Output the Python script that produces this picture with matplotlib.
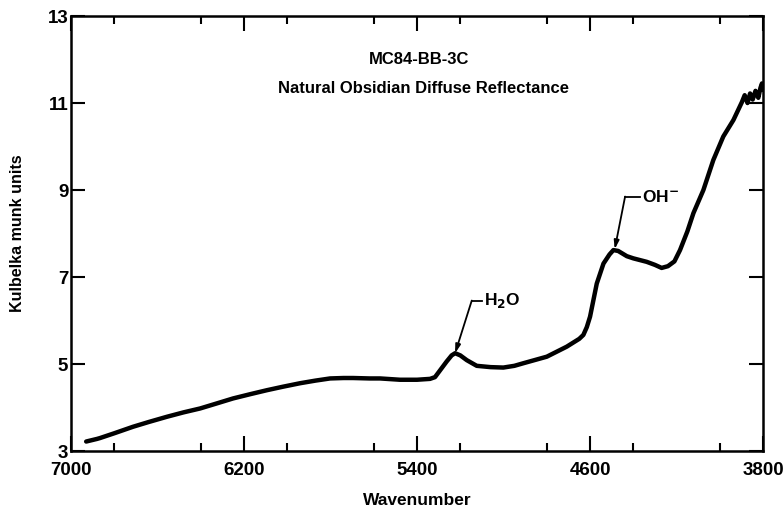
import matplotlib
matplotlib.use("Agg")
import matplotlib.pyplot as plt
from matplotlib.ticker import MultipleLocator, FixedLocator

plt.rcParams['font.family'] = ['Liberation Sans', 'DejaVu Sans']
plt.rcParams['font.weight'] = 'bold'

# ---- data ----
wavenumber = [6930, 6880, 6866, 6800, 6713, 6640, 6556, 6480, 6403, 6330, 6251,
              6170, 6094, 6020, 5941, 5870, 5802, 5740, 5696, 5620, 5571, 5479,
              5400, 5340, 5317, 5290, 5263, 5240, 5224, 5200, 5170, 5124, 5060,
              5001, 4950, 4908, 4800, 4708, 4650, 4631, 4615, 4600, 4569, 4538,
              4510, 4492, 4470, 4430, 4400, 4338, 4300, 4269, 4240, 4210, 4184,
              4150, 4122, 4076, 4030, 3984, 3937, 3898, 3885, 3872, 3860, 3848,
              3835, 3822, 3812, 3805, 3800]
km_units = [3.22, 3.28, 3.30, 3.41, 3.56, 3.67, 3.79, 3.89, 3.98, 4.09, 4.21,
            4.31, 4.40, 4.48, 4.56, 4.62, 4.67, 4.68, 4.68, 4.67, 4.67, 4.64,
            4.64, 4.66, 4.70, 4.88, 5.06, 5.20, 5.25, 5.20, 5.09, 4.96, 4.93,
            4.92, 4.96, 5.02, 5.17, 5.40, 5.58, 5.67, 5.85, 6.09, 6.85, 7.31,
            7.52, 7.62, 7.60, 7.48, 7.43, 7.35, 7.28, 7.21, 7.25, 7.36, 7.62,
            8.05, 8.47, 9.00, 9.69, 10.23, 10.61, 11.02, 11.18, 11.00, 11.22,
            11.08, 11.28, 11.12, 11.35, 11.45, 11.30]

x_ticks = [7000, 6200, 5400, 4600, 3800]
y_ticks = [3, 5, 7, 9, 11, 13]

title_lines = ["MC84-BB-3C", "Natural Obsidian Diffuse Reflectance"]

# annotation leaders: (peak x, peak y, knee x, knee y, end x)
h2o_leader = (5224, 5.25, 5147, 6.46, 5101)
oh_leader = (4486, 7.64, 4438, 8.85, 4369)

fig = plt.figure(figsize=(7.84, 5.08), dpi=100)
ax = fig.add_axes([0.0906, 0.112, 0.8827, 0.8565])

ax.plot(wavenumber, km_units, color='black', lw=3.2, solid_capstyle='round',
        solid_joinstyle='round')

ax.set_xlim(7000, 3800)
ax.set_ylim(3, 13)
ax.xaxis.set_major_locator(FixedLocator(x_ticks))
ax.xaxis.set_minor_locator(MultipleLocator(400))
ax.yaxis.set_major_locator(FixedLocator(y_ticks))

ax.tick_params(axis='x', which='major', direction='in', top=True, bottom=True,
               length=11, width=1.5, labelsize=13.5, pad=8)
ax.tick_params(axis='x', which='minor', direction='in', top=True, bottom=True,
               length=6, width=1.5)
ax.tick_params(axis='y', which='major', direction='in', left=True, right=True,
               length=10, width=1.5, labelsize=13.5, pad=2)
for lab in ax.get_xticklabels() + ax.get_yticklabels():
    lab.set_fontweight('bold')

for s in ax.spines.values():
    s.set_linewidth(1.8)

ax.set_xlabel("Wavenumber", fontsize=12.5, fontweight='bold', labelpad=10)
ax.set_ylabel("Kulbelka munk units", fontsize=11.5, fontweight='bold', labelpad=16)

ax.text(0.503, 0.900, title_lines[0], transform=ax.transAxes, ha='center',
        va='center', fontsize=12, fontweight='bold')
ax.text(0.510, 0.833, title_lines[1], transform=ax.transAxes, ha='center',
        va='center', fontsize=12, fontweight='bold')

for (px, py, kx, ky, ex), label in [(h2o_leader, r"H$_\mathbf{2}$O"),
                                     (oh_leader, r"OH$^{\mathbf{-}}$")]:
    ax.annotate("", xy=(px, py), xytext=(kx, ky),
                arrowprops=dict(arrowstyle='-|>,head_length=0.5,head_width=0.15',
                                color='black', lw=1.3, shrinkA=0, shrinkB=0))
    ax.plot([kx, ex], [ky, ky], color='black', lw=1.3)
    ax.text(ex - 10, ky, label, ha='left', va='center', fontsize=12.5,
            fontweight='bold')

fig.savefig("out.png", dpi=100)
